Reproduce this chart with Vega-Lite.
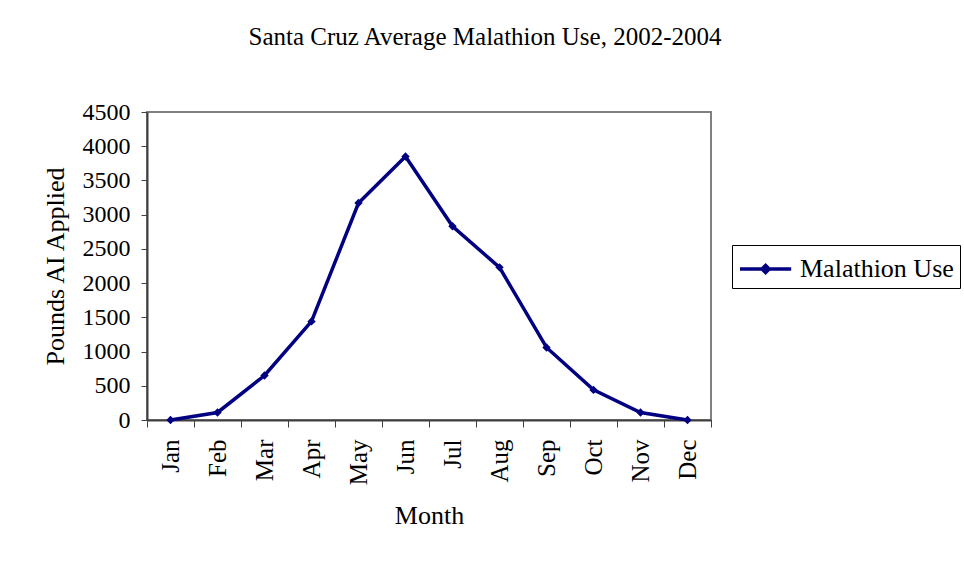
{
  "$schema": "https://vega.github.io/schema/vega-lite/v6.json",
  "width": 564,
  "height": 308,
  "padding": {"left": 42, "top": 25, "right": 5, "bottom": 5},
  "background": "white",
  "config": {
    "font": "Liberation Serif",
    "view": {"stroke": "#808080", "strokeWidth": 2}
  },
  "title": {
    "text": "Santa Cruz Average Malathion Use, 2002-2004",
    "font": "Liberation Serif",
    "fontSize": 25,
    "fontWeight": "normal",
    "color": "black",
    "anchor": "middle",
    "frame": "group",
    "dx": 56,
    "offset": 50
  },
  "data": {
    "values": [
      {"month": "Jan", "pounds": 0, "series": "Malathion Use"},
      {"month": "Feb", "pounds": 110, "series": "Malathion Use"},
      {"month": "Mar", "pounds": 650, "series": "Malathion Use"},
      {"month": "Apr", "pounds": 1440, "series": "Malathion Use"},
      {"month": "May", "pounds": 3170, "series": "Malathion Use"},
      {"month": "Jun", "pounds": 3850, "series": "Malathion Use"},
      {"month": "Jul", "pounds": 2830, "series": "Malathion Use"},
      {"month": "Aug", "pounds": 2230, "series": "Malathion Use"},
      {"month": "Sep", "pounds": 1060, "series": "Malathion Use"},
      {"month": "Oct", "pounds": 440, "series": "Malathion Use"},
      {"month": "Nov", "pounds": 110, "series": "Malathion Use"},
      {"month": "Dec", "pounds": 0, "series": "Malathion Use"}
    ]
  },
  "mark": {
    "type": "line",
    "strokeWidth": 3.5,
    "point": {"shape": "diamond", "filled": true, "size": 70}
  },
  "encoding": {
    "x": {
      "field": "month",
      "type": "ordinal",
      "sort": null,
      "bandPosition": 0.5,
      "scale": {"type": "band", "paddingInner": 0, "paddingOuter": 0},
      "axis": {
        "title": "Month",
        "titleFont": "Liberation Serif",
        "titleFontSize": 26,
        "titleFontWeight": "normal",
        "titleColor": "black",
        "titlePadding": 18,
        "labelFont": "Liberation Serif",
        "labelFontSize": 25,
        "labelColor": "black",
        "labelAngle": -90,
        "labelAlign": "right",
        "labelBaseline": "middle",
        "labelPadding": 12,
        "tickBand": "extent",
        "tickSize": 7,
        "tickColor": "#404040",
        "domainColor": "#404040",
        "domainWidth": 2
      }
    },
    "y": {
      "field": "pounds",
      "type": "quantitative",
      "scale": {"domain": [0, 4500], "nice": false},
      "axis": {
        "title": "Pounds AI Applied",
        "titleFont": "Liberation Serif",
        "titleFontSize": 26,
        "titleFontWeight": "normal",
        "titleColor": "black",
        "titlePadding": 14,
        "values": [0, 500, 1000, 1500, 2000, 2500, 3000, 3500, 4000, 4500],
        "format": "d",
        "labelFont": "Liberation Serif",
        "labelFontSize": 24,
        "labelColor": "black",
        "labelPadding": 11,
        "tickSize": 6,
        "tickColor": "#404040",
        "domainColor": "#404040",
        "domainWidth": 2,
        "grid": false
      }
    },
    "color": {
      "field": "series",
      "type": "nominal",
      "scale": {"range": ["#000080"]},
      "legend": {
        "title": null,
        "orient": "none",
        "legendX": 585,
        "legendY": 133,
        "strokeColor": "black",
        "fillColor": "white",
        "padding": 6,
        "labelFont": "Liberation Serif",
        "labelFontSize": 26,
        "labelColor": "black",
        "labelOffset": 26,
        "symbolType": "M-1,0H2.2M0.6,-0.22L0.82,0L0.6,0.22L0.38,0Z",
        "symbolSize": 1024,
        "symbolStrokeWidth": 3.5,
        "symbolStrokeColor": "#000080",
        "symbolFillColor": "#000080"
      }
    }
  }
}
